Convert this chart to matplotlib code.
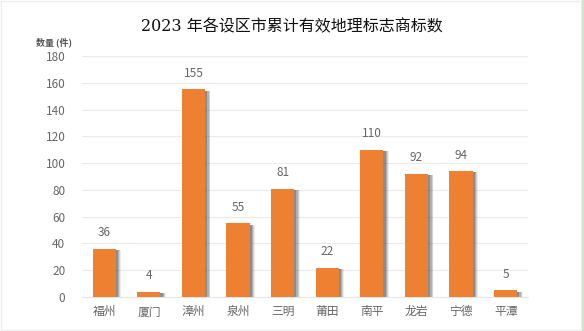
import matplotlib
matplotlib.use('Agg')
import matplotlib.pyplot as plt
from matplotlib.patches import Rectangle

plt.rcParams['font.family'] = ['Noto Sans CJK SC', 'DejaVu Sans']

cities = ['福州', '厦门', '漳州', '泉州', '三明', '莆田', '南平', '龙岩', '宁德', '平潭']
counts = [36, 4, 155, 55, 81, 22, 110, 92, 94, 5]
yticks = [0, 20, 40, 60, 80, 100, 120, 140, 160, 180]

bar_color = '#ED8131'
text_color = '#666666'

fig = plt.figure(figsize=(5.84, 3.31), dpi=100)
ax = fig.add_axes([0.1404, 0.1027, 0.7636, 0.7281])

x = list(range(len(cities)))
w = 0.52

# soft shadow on the right side of each bar
for off, alpha in [(0.12, 0.10), (0.10, 0.16), (0.08, 0.24), (0.05, 0.35)]:
    ax.bar([i + off for i in x], [c - 1.0 for c in counts], width=w, color='#4a4a4a',
           alpha=alpha, zorder=2, linewidth=0)
ax.bar(x, counts, width=w, color=bar_color, zorder=3, linewidth=0)

for i, c in zip(x, counts):
    ax.text(i, c + 7, str(c), ha='center', va='bottom', fontsize=8.5,
            color=text_color, zorder=4)

ax.set_xlim(-0.5, len(cities) - 0.5)
ax.set_ylim(0, 180)
ax.set_yticks(yticks)
ax.set_xticks(x)
ax.set_xticklabels(cities, fontsize=8.5, color=text_color)
ax.tick_params(axis='y', labelsize=8.5, labelcolor=text_color, length=0, pad=12)
ax.tick_params(axis='x', length=0, pad=6)
ax.grid(axis='y', color='#EBEBEB', linewidth=0.8, zorder=0)
ax.set_axisbelow(True)
for s in ['top', 'right', 'left']:
    ax.spines[s].set_visible(False)
ax.spines['bottom'].set_color('#E6E6E6')

fig.text(0.5, 0.918, '2023 年各设区市累计有效地理标志商标数', ha='center', va='center',
         fontsize=11.5, color='#111111', family=['DejaVu Serif', 'Noto Sans CJK SC'])
fig.text(0.062, 0.873, '数量 (件)', ha='left', va='center', fontsize=6.5,
         color='#555555', fontweight='bold')

# outer frame
fig.patches.append(Rectangle((0.002, 0.003), 0.993, 0.994, transform=fig.transFigure,
                             fill=False, edgecolor='#EEEEEE', linewidth=1))
fig.patches.append(Rectangle((0.996, 0), 0.004, 1, transform=fig.transFigure,
                             facecolor='#CDE8C4', edgecolor='none'))

fig.savefig('out.png', dpi=100)
